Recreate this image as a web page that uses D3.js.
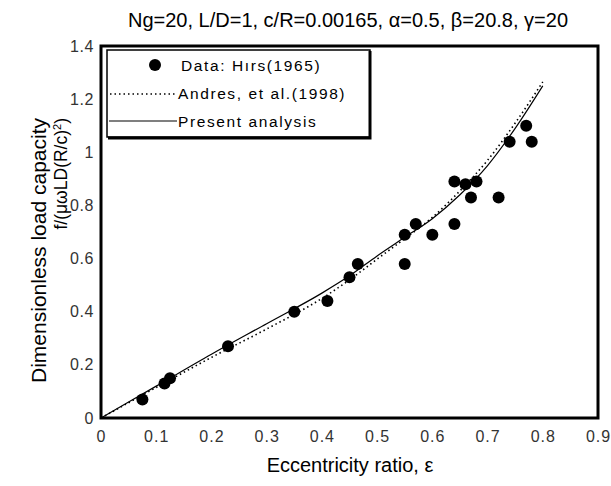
<!DOCTYPE html>
<html>
<head>
<meta charset="utf-8">
<script src="https://cdn.jsdelivr.net/npm/d3@7"></script>
<style>
  body { margin: 0; background: #fff; }
  text { font-family: "Liberation Sans", Arial, sans-serif; }
</style>
</head>
<body>
<div id="chart"></div>
<script>
// Hirs (1965) measured points: eccentricity ratio and load capacity
const hirsEps  = [0.075, 0.115, 0.125, 0.23, 0.35, 0.41, 0.45, 0.465, 0.55, 0.55, 0.57, 0.60, 0.64, 0.64, 0.66, 0.67, 0.68, 0.72, 0.74, 0.77, 0.78];
const hirsLoad = [0.07, 0.13, 0.15, 0.27, 0.40, 0.44, 0.53, 0.58, 0.58, 0.69, 0.73, 0.69, 0.73, 0.89, 0.88, 0.83, 0.89, 0.83, 1.04, 1.10, 1.04];

// curves
const curveEps     = [0, 0.1, 0.2, 0.3, 0.4, 0.45, 0.5, 0.55, 0.6, 0.65, 0.7, 0.75, 0.8];
const andresLoad   = [0, 0.115, 0.228, 0.335, 0.45, 0.52, 0.598, 0.675, 0.755, 0.855, 0.97, 1.11, 1.265];
const presentLoad  = [0, 0.12, 0.24, 0.355, 0.47, 0.535, 0.61, 0.68, 0.75, 0.84, 0.95, 1.09, 1.25];

const xTicks = [0, 0.1, 0.2, 0.3, 0.4, 0.5, 0.6, 0.7, 0.8, 0.9];
const yTicks = [0, 0.2, 0.4, 0.6, 0.8, 1, 1.2, 1.4];

const W = 611, H = 486;
const margin = { top: 46, right: 13, bottom: 68, left: 101 };

const svg = d3.select("#chart").append("svg")
    .attr("width", W)
    .attr("height", H);

const x = d3.scaleLinear().domain([0, 0.9]).range([margin.left, W - margin.right]);
const y = d3.scaleLinear().domain([0, 1.4]).range([H - margin.bottom, margin.top]);

// title
svg.append("text")
    .attr("x", 348).attr("y", 27)
    .attr("text-anchor", "middle")
    .style("font-size", "20px")
    .text("Ng=20, L/D=1, c/R=0.00165, α=0.5, β=20.8, γ=20");

// tick labels (no tick marks in the original)
svg.append("g")
    .attr("transform", "translate(0," + (H - margin.bottom) + ")")
    .call(d3.axisBottom(x).tickValues(xTicks).tickSize(0).tickPadding(13).tickFormat(d3.format("")))
    .call(g => g.select(".domain").remove())
    .selectAll("text")
    .style("font-size", "16px")
    .style("letter-spacing", "1px")
    .style("font-family", "Liberation Sans, Arial, sans-serif")
    .attr("fill", "#333");

svg.append("g")
    .attr("transform", "translate(" + margin.left + ",0)")
    .call(d3.axisLeft(y).tickValues(yTicks).tickSize(0).tickPadding(7).tickFormat(d3.format("")))
    .call(g => g.select(".domain").remove())
    .selectAll("text")
    .style("font-size", "16px")
    .style("letter-spacing", "0.6px")
    .style("font-family", "Liberation Sans, Arial, sans-serif")
    .attr("fill", "#333");

// axis labels
svg.append("text")
    .attr("x", 350).attr("y", 472)
    .attr("text-anchor", "middle")
    .style("font-size", "20px")
    .text("Eccentricity ratio, ε");

svg.append("text")
    .attr("transform", "translate(46,118) rotate(-90)")
    .attr("text-anchor", "end")
    .style("font-size", "21px")
    .text("Dimensionless load capacity");

const yl2 = svg.append("text")
    .attr("transform", "translate(67,118) rotate(-90)")
    .attr("text-anchor", "end")
    .style("font-size", "17.5px");
yl2.append("tspan").text("f/(μωLD(R/c)");
yl2.append("tspan").attr("dy", -6).style("font-size", "11px").text("2");
yl2.append("tspan").attr("dy", 6).text(")");

// curves
const line = d3.line()
    .x(d => x(d[0]))
    .y(d => y(d[1]))
    .curve(d3.curveMonotoneX);

svg.append("path")
    .datum(curveEps.map((e, i) => [e, andresLoad[i]]))
    .attr("d", line)
    .attr("fill", "none")
    .attr("stroke", "#000")
    .attr("stroke-width", 1.6)
    .attr("stroke-dasharray", "1.5,3");

svg.append("path")
    .datum(curveEps.map((e, i) => [e, presentLoad[i]]))
    .attr("d", line)
    .attr("fill", "none")
    .attr("stroke", "#000")
    .attr("stroke-width", 1.2);

// data points
svg.append("g")
    .selectAll("circle")
    .data(hirsEps.map((e, i) => [e, hirsLoad[i]]))
    .join("circle")
    .attr("cx", d => x(d[0]))
    .attr("cy", d => y(d[1]))
    .attr("r", 6)
    .attr("fill", "#000");

// plot frame
svg.append("rect")
    .attr("x", margin.left).attr("y", margin.top)
    .attr("width", W - margin.left - margin.right)
    .attr("height", H - margin.top - margin.bottom)
    .attr("fill", "none")
    .attr("stroke", "#000")
    .attr("stroke-width", 3);

// legend
const lg = svg.append("g");
lg.append("rect")
    .attr("x", 107).attr("y", 50)
    .attr("width", 263).attr("height", 87)
    .attr("fill", "#fff")
    .attr("stroke", "#000")
    .attr("stroke-width", 1.5);
// shadow edges on right and bottom
lg.append("path")
    .attr("d", "M370,51 V138 H108")
    .attr("fill", "none")
    .attr("stroke", "#000")
    .attr("stroke-width", 3);

lg.append("circle").attr("cx", 155).attr("cy", 65).attr("r", 6).attr("fill", "#000");
lg.append("line")
    .attr("x1", 110).attr("x2", 176).attr("y1", 94).attr("y2", 94)
    .attr("stroke", "#000").attr("stroke-width", 1.6).attr("stroke-dasharray", "1.5,3");
lg.append("line")
    .attr("x1", 109).attr("x2", 177).attr("y1", 121).attr("y2", 121)
    .attr("stroke", "#000").attr("stroke-width", 1.2);

const legendText = ["Data: Hırs(1965)", "Andres, et al.(1998)", "Present analysis"];
lg.selectAll("text.lbl")
    .data(legendText)
    .join("text")
    .attr("class", "lbl")
    .attr("x", d => d.startsWith("Data") ? 181 : 178)
    .attr("y", (d, i) => 71 + i * 28)
    .style("font-size", "15.5px")
    .style("letter-spacing", "1.6px")
    .text(d => d);
</script>
</body>
</html>
